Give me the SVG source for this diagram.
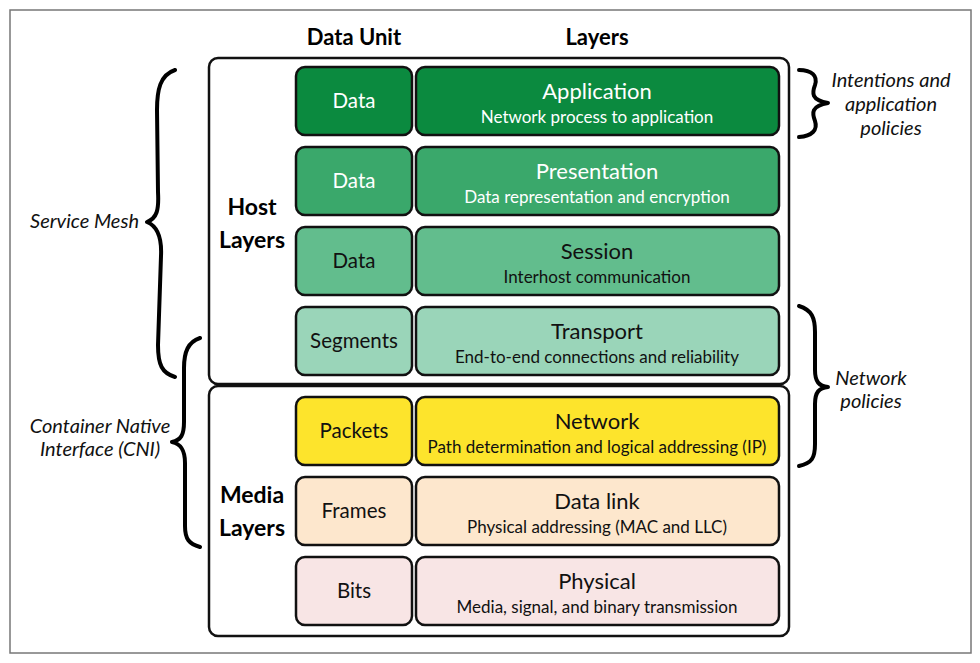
<svg xmlns="http://www.w3.org/2000/svg" width="980" height="663" viewBox="0 0 980 663">
<style>
text{font-family:Lato,"Liberation Sans",sans-serif;text-anchor:middle}
.hdr{font-size:22px;font-weight:bold;fill:#000}
.grp{font-size:23px;font-weight:bold;fill:#000}
.unit{font-size:20.5px}
.t{font-size:22px}
.s{font-size:17px}
.w{fill:#fff}
.k{fill:#111}
.note{font-size:20px;font-style:italic;fill:#111}
.box{stroke:#111;stroke-width:2.5}
.frame{fill:#fff;stroke:#111;stroke-width:2.5}
.brace{fill:none;stroke:#000;stroke-width:4;stroke-linecap:round;stroke-linejoin:round}
</style>
<rect x="0" y="0" width="980" height="663" fill="#fff"/>
<rect x="10" y="10" width="961" height="643" fill="#fff" stroke="#777" stroke-width="1.5"/>
<text class="hdr" x="354" y="45">Data Unit</text>
<text class="hdr" x="597" y="45">Layers</text>
<g id="host-layers">
<rect class="frame" x="209" y="58" width="580" height="326" rx="9"/>
<text class="grp" x="252" y="215">Host</text>
<text class="grp" x="252" y="248">Layers</text>
</g>
<g id="media-layers">
<rect class="frame" x="209" y="386" width="580" height="250" rx="9"/>
<text class="grp" x="252" y="503">Media</text>
<text class="grp" x="252" y="536">Layers</text>
</g>
<g id="application">
<rect class="box" x="296" y="67" width="116" height="68" rx="9" fill="#0b8a3f"/>
<text class="unit w" x="354" y="108">Data</text>
<rect class="box" x="416" y="67" width="363" height="68" rx="9" fill="#0b8a3f"/>
<text class="t w" x="597" y="99">Application</text>
<text class="s w" x="597" y="123">Network process to application</text>
</g>
<g id="presentation">
<rect class="box" x="296" y="147" width="116" height="68" rx="9" fill="#3aa86b"/>
<text class="unit w" x="354" y="188">Data</text>
<rect class="box" x="416" y="147" width="363" height="68" rx="9" fill="#3aa86b"/>
<text class="t w" x="597" y="179">Presentation</text>
<text class="s w" x="597" y="203">Data representation and encryption</text>
</g>
<g id="session">
<rect class="box" x="296" y="227" width="116" height="68" rx="9" fill="#62bd8d"/>
<text class="unit k" x="354" y="268">Data</text>
<rect class="box" x="416" y="227" width="363" height="68" rx="9" fill="#62bd8d"/>
<text class="t k" x="597" y="259">Session</text>
<text class="s k" x="597" y="283">Interhost communication</text>
</g>
<g id="transport">
<rect class="box" x="296" y="307" width="116" height="68" rx="9" fill="#9ad5b9"/>
<text class="unit k" x="354" y="348">Segments</text>
<rect class="box" x="416" y="307" width="363" height="68" rx="9" fill="#9ad5b9"/>
<text class="t k" x="597" y="339">Transport</text>
<text class="s k" x="597" y="363">End-to-end connections and reliability</text>
</g>
<g id="network">
<rect class="box" x="296" y="397" width="116" height="68" rx="9" fill="#fde42c"/>
<text class="unit k" x="354" y="438">Packets</text>
<rect class="box" x="416" y="397" width="363" height="68" rx="9" fill="#fde42c"/>
<text class="t k" x="597" y="429">Network</text>
<text class="s k" x="597" y="453">Path determination and logical addressing (IP)</text>
</g>
<g id="data-link">
<rect class="box" x="296" y="477" width="116" height="68" rx="9" fill="#fde7cd"/>
<text class="unit k" x="354" y="518">Frames</text>
<rect class="box" x="416" y="477" width="363" height="68" rx="9" fill="#fde7cd"/>
<text class="t k" x="597" y="509">Data link</text>
<text class="s k" x="597" y="533">Physical addressing (MAC and LLC)</text>
</g>
<g id="physical">
<rect class="box" x="296" y="557" width="116" height="68" rx="9" fill="#f8e5e5"/>
<text class="unit k" x="354" y="598">Bits</text>
<rect class="box" x="416" y="557" width="363" height="68" rx="9" fill="#f8e5e5"/>
<text class="t k" x="597" y="589">Physical</text>
<text class="s k" x="597" y="613">Media, signal, and binary transmission</text>
</g>
<g id="connectors">
<path class="brace" d="M175,70 C160,75 157,90 157,110 L158,192 C159,210 157,218 147,222 C157,226 162,236 161,256 L158,345 C158,365 162,373 175,377"/>
<path class="brace" d="M200,338 C188,342 184,352 184,368 L184,422 C184,435 181,440 172,442 C181,444 185,450 185,463 L185,526 C185,539 189,544 200,547"/>
<path class="brace" d="M799,70 C812,70 818,76 815,85 C812,93 811,100 828,103 C811,106 812,113 815,121 C818,130 812,136 799,137"/>
<path class="brace" d="M799,306 C812,310 815,318 815,332 L815,370 C815,382 819,386 828,387 C819,388 815,392 815,404 L815,444 C815,458 812,463 799,466"/>
</g>
<g id="labels">
<text class="note" x="139" y="228" style="text-anchor:end">Service Mesh</text>
<text class="note" x="100" y="433">Container Native</text>
<text class="note" x="100" y="456">Interface (CNI)</text>
<text class="note" x="891" y="87">Intentions and</text>
<text class="note" x="891" y="111">application</text>
<text class="note" x="891" y="135">policies</text>
<text class="note" x="871" y="385">Network</text>
<text class="note" x="871" y="408">policies</text>
</g>
</svg>
